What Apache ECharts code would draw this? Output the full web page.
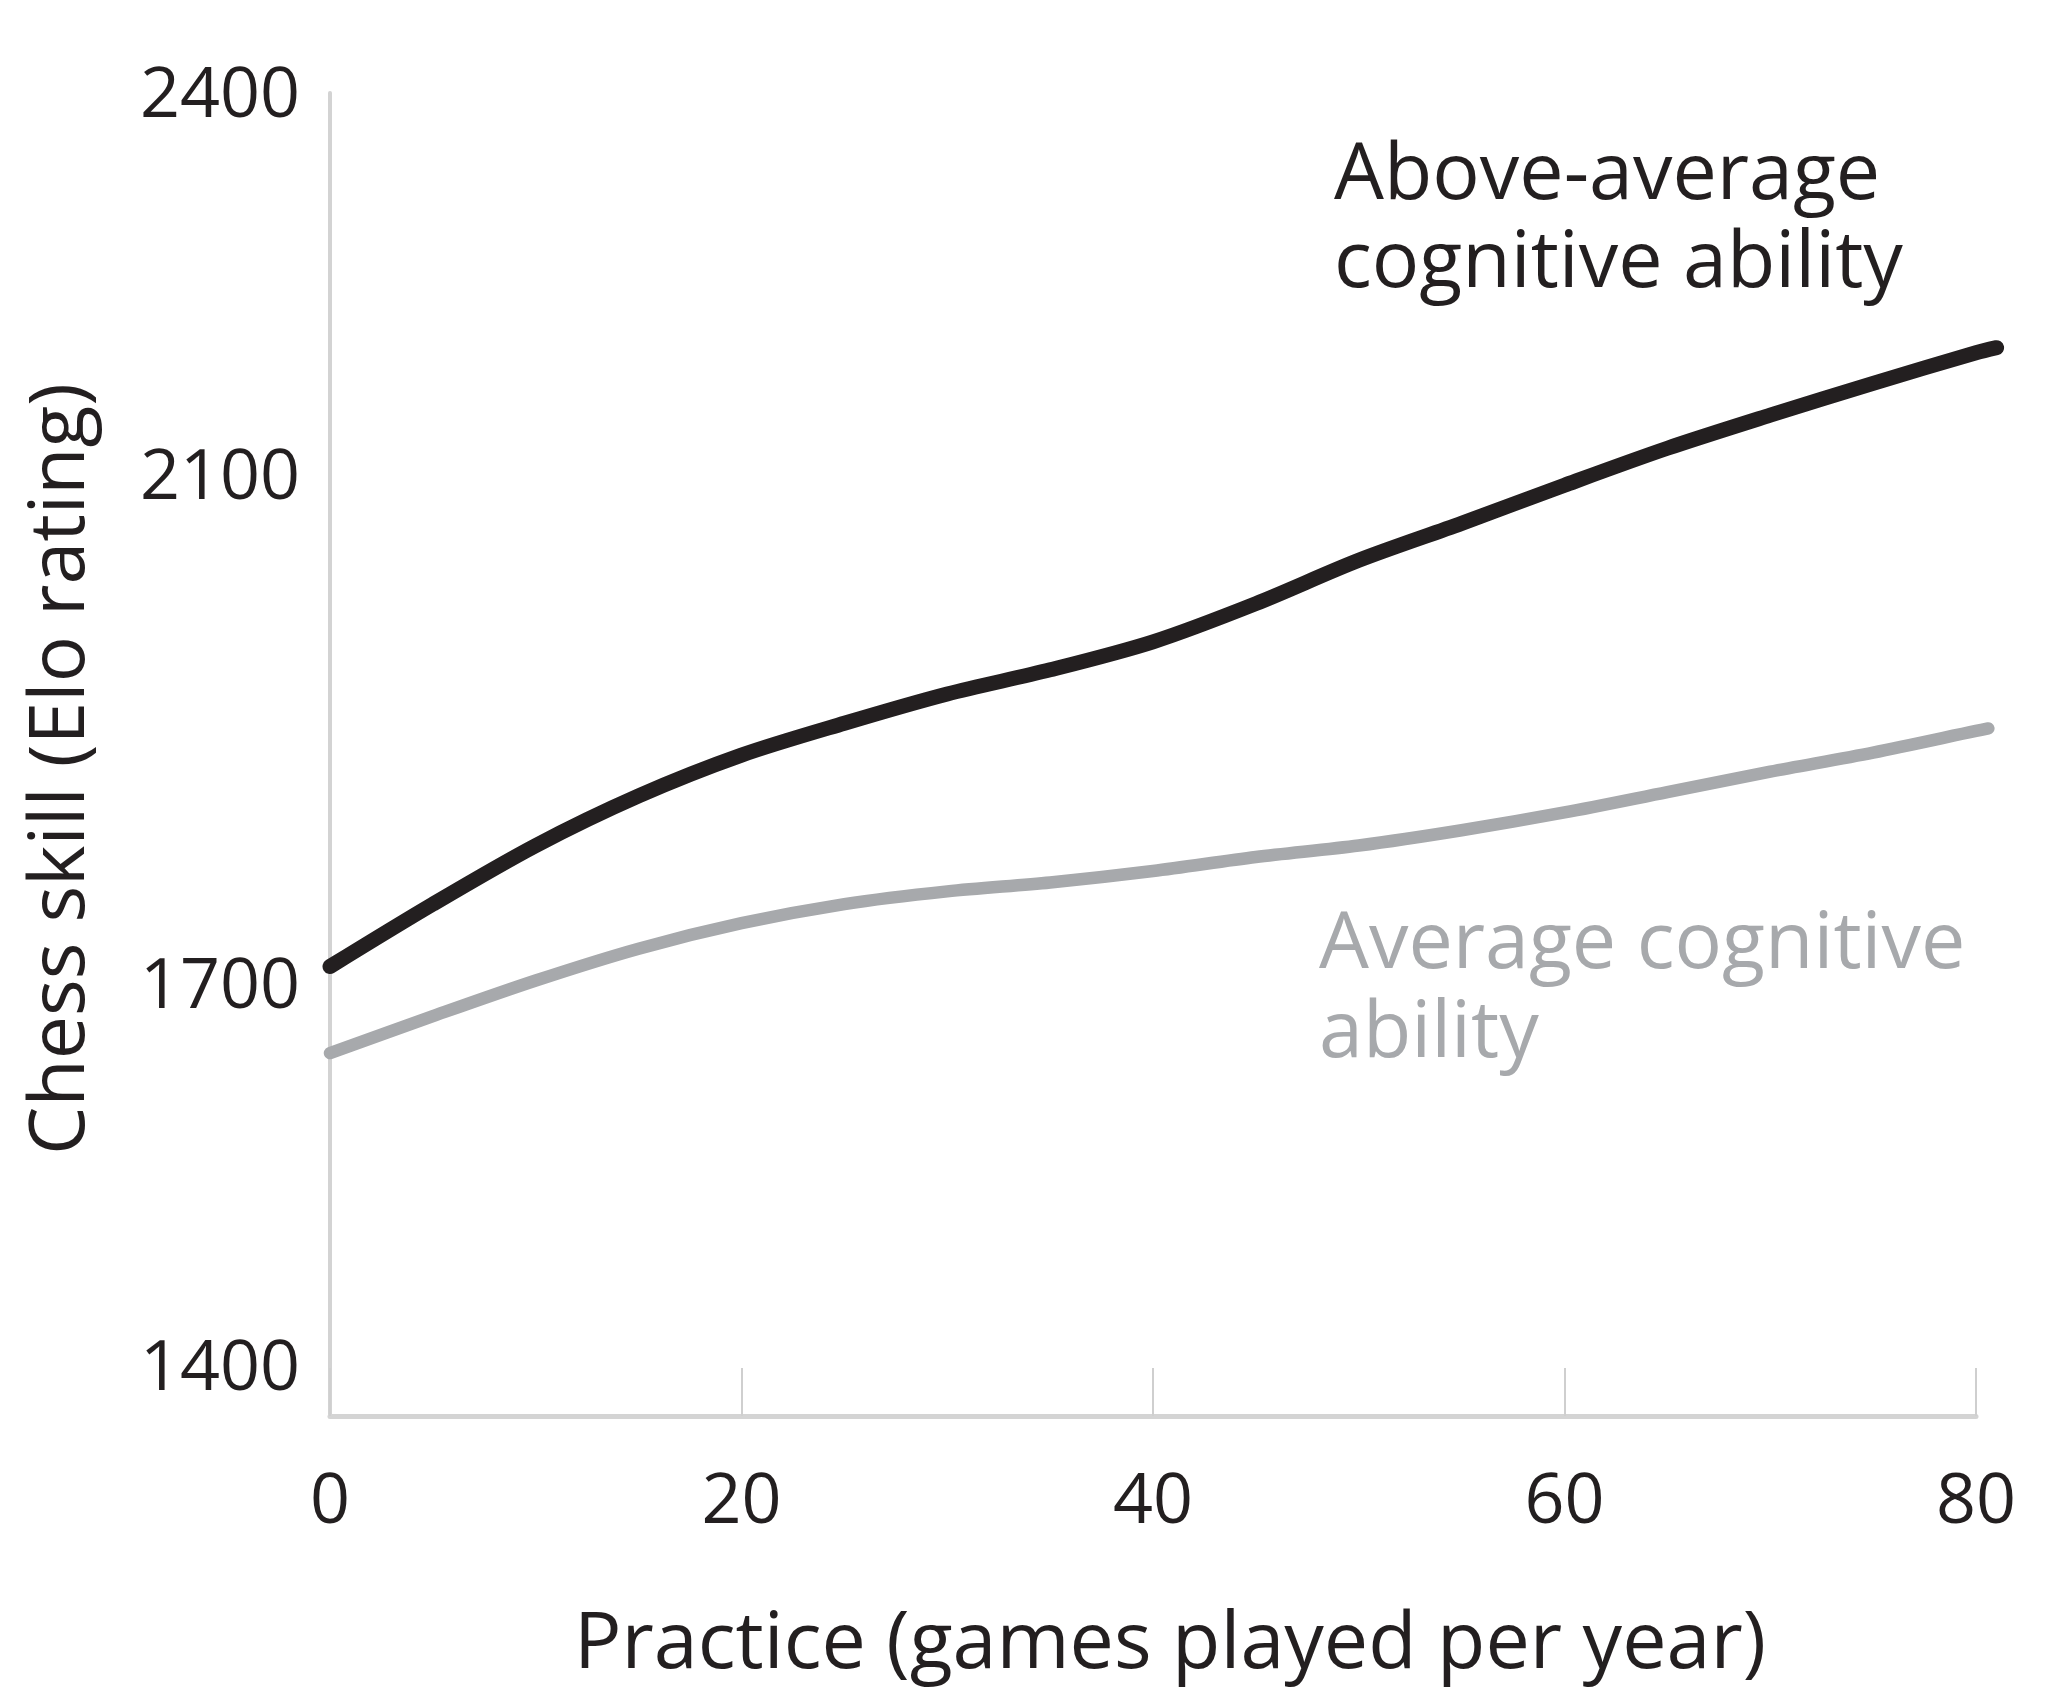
<!DOCTYPE html>
<html>
<head>
<meta charset="utf-8">
<script src="https://cdn.jsdelivr.net/npm/echarts@6/dist/echarts.min.js"></script>
<style>
  html, body { margin: 0; padding: 0; background: #fff; }
  #chart { width: 2055px; height: 1702px; }
</style>
</head>
<body>
<div id="chart"></div>
<script>
// games played per year (x) for each curve
const practiceAbove = [0, 5, 10, 15, 20, 25, 30, 35, 40, 45, 50, 55, 60, 65, 70, 75, 80, 81]
const practiceAvg = [0, 5, 10, 15, 20, 25, 30, 35, 40, 45, 50, 55, 60, 65, 70, 75, 80, 80.6]

// Elo rating
const aboveAverage = [1717, 1766, 1812, 1851, 1883, 1908, 1931, 1950, 1972, 2002, 2036, 2065, 2095, 2124, 2150, 2175, 2199, 2203]
const average = [1649, 1678, 1706, 1731, 1751, 1766, 1776, 1783, 1792, 1803, 1812, 1824, 1838, 1854, 1870, 1885, 1902, 1904]

const yTicks = [1400, 1700, 2100, 2400]

const FONT = '"Open Sans", Lato, sans-serif'
const BLACK = '#231f20'
const GREY = '#a7a9ac'

const X_MAX = 80
const Y_MIN = 1364
const Y_MAX = 2403

// the curves run a little past the last tick, so they sit on a hidden,
// slightly wider grid that shares the same scale as the visible axes
const plotLeft = 330
const plotRight = 79
const plotWidth = 2055 - plotLeft - plotRight
const X_MAX_CURVES = 82
const curvesRight = 2055 - plotLeft - plotWidth * X_MAX_CURVES / X_MAX

var myChart = echarts.init(document.getElementById('chart'))

var option = {
    backgroundColor: '#fff',
    animation: false,
    grid: [
        { left: plotLeft, right: plotRight, top: 93, bottom: 286, outerBoundsMode: 'none' },
        { left: plotLeft, right: curvesRight, top: 93, bottom: 286, outerBoundsMode: 'none' }
    ],
    xAxis: [
        {
            type: 'value',
            gridIndex: 0,
            min: 0,
            max: X_MAX,
            interval: 20,
            axisLine: { lineStyle: { color: '#d4d4d4', width: 5 } },
            axisTick: { show: true, inside: true, length: 48, lineStyle: { color: '#cfcfcf', width: 2 } },
            axisLabel: { fontSize: 70, fontFamily: FONT, color: BLACK, margin: 52 },
            splitLine: { show: false }
        },
        {
            type: 'value',
            gridIndex: 1,
            min: 0,
            max: X_MAX_CURVES,
            show: false
        }
    ],
    yAxis: [
        {
            type: 'value',
            gridIndex: 0,
            min: Y_MIN,
            max: Y_MAX,
            axisLine: { show: true, lineStyle: { color: '#d3d3d3', width: 4 } },
            axisTick: { show: false },
            axisLabel: {
                customValues: yTicks,
                formatter: value => String(value),
                fontSize: 70,
                fontFamily: FONT,
                color: BLACK,
                margin: 30,
                padding: [10, 0, 0, 0]
            },
            splitLine: { show: false }
        },
        {
            type: 'value',
            gridIndex: 1,
            min: Y_MIN,
            max: Y_MAX,
            show: false
        }
    ],
    series: [
        {
            name: 'Above-average cognitive ability',
            type: 'line',
            xAxisIndex: 1,
            yAxisIndex: 1,
            data: practiceAbove.map((x, i) => [x, aboveAverage[i]]),
            smooth: 0.3,
            showSymbol: false,
            lineStyle: { color: BLACK, width: 15, cap: 'round', join: 'round' }
        },
        {
            name: 'Average cognitive ability',
            type: 'line',
            xAxisIndex: 1,
            yAxisIndex: 1,
            data: practiceAvg.map((x, i) => [x, average[i]]),
            smooth: 0.3,
            showSymbol: false,
            lineStyle: { color: GREY, width: 12.5, cap: 'round', join: 'round' }
        }
    ],
    graphic: [
        {
            type: 'text',
            x: 62,
            y: 769,
            rotation: Math.PI / 2,
            style: {
                text: 'Chess skill (Elo rating)',
                font: '77px ' + FONT,
                fill: BLACK,
                align: 'center',
                verticalAlign: 'middle'
            }
        },
        {
            type: 'text',
            x: 1170,
            y: 1645,
            style: {
                text: 'Practice (games played per year)',
                font: '79px ' + FONT,
                fill: BLACK,
                align: 'center',
                verticalAlign: 'middle'
            }
        },
        {
            type: 'text',
            x: 1334,
            y: 132,
            style: {
                text: 'Above-average\ncognitive ability',
                font: '79px ' + FONT,
                lineHeight: 88,
                fill: BLACK,
                align: 'left',
                verticalAlign: 'top'
            }
        },
        {
            type: 'text',
            x: 1319,
            y: 901,
            style: {
                text: 'Average cognitive\nability',
                font: '79px ' + FONT,
                lineHeight: 89,
                fill: GREY,
                align: 'left',
                verticalAlign: 'top'
            }
        }
    ]
}

myChart.setOption(option)
</script>
</body>
</html>
